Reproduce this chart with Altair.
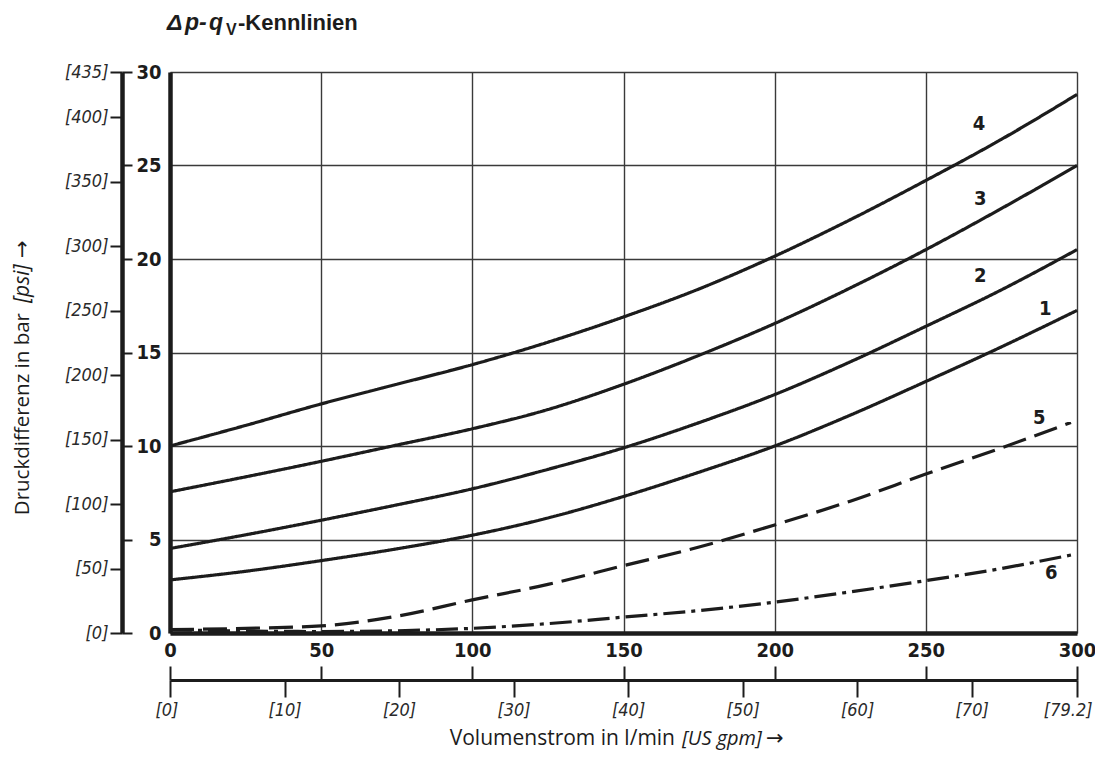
import altair as alt
import pandas as pd

# ---------------- data ----------------
q = [0, 25, 50, 75, 100, 125, 150, 175, 200, 225, 250, 275, 300]
curve1 = [2.84, 3.3, 3.87, 4.5, 5.23, 6.15, 7.3, 8.6, 10.0, 11.65, 13.45, 15.3, 17.25]
curve2 = [4.52, 5.25, 6.03, 6.85, 7.71, 8.75, 9.9, 11.25, 12.75, 14.5, 16.4, 18.35, 20.5]
curve3 = [7.55, 8.35, 9.18, 10.05, 10.92, 11.95, 13.3, 14.85, 16.55, 18.45, 20.5, 22.7, 25.0]
curve4 = [10.0, 11.1, 12.25, 13.3, 14.35, 15.55, 16.9, 18.4, 20.15, 22.1, 24.2, 26.4, 28.8]
q56 = [0, 25, 50, 75, 100, 125, 150, 175, 200, 225, 250, 275, 298]
curve5 = [0.18, 0.25, 0.38, 0.9, 1.77, 2.6, 3.6, 4.6, 5.78, 7.05, 8.5, 9.9, 11.26]
curve6 = [0.18, 0.1, 0.08, 0.12, 0.25, 0.5, 0.85, 1.2, 1.65, 2.2, 2.8, 3.45, 4.17]

label_names = ["1", "2", "3", "4", "5", "6"]
label_q = [289.5, 268.0, 268.0, 267.6, 287.5, 291.5]
label_dp = [17.3, 19.1, 23.2, 27.2, 11.5, 3.2]

q_ticks = [0, 50, 100, 150, 200, 250, 300]
bar_ticks = [0, 5, 10, 15, 20, 25, 30]
psi_ticks = [0, 50, 100, 150, 200, 250, 300, 350, 400, 435]
gpm_ticks = [0, 10, 20, 30, 40, 50, 60, 70, 79.2]

# ---------------- tables ----------------
rows = []
for name, ys_, xs_, style in [("1", curve1, q, "solid"), ("2", curve2, q, "solid"),
                              ("3", curve3, q, "solid"), ("4", curve4, q, "solid"),
                              ("5", curve5, q56, "dash"), ("6", curve6, q56, "dashdot")]:
    for a, b in zip(xs_, ys_):
        rows.append({"q": a, "dp": b, "curve": name, "style": style})
df = pd.DataFrame(rows)
lab_df = pd.DataFrame({"q": label_q, "dp": label_dp, "name": label_names})
dummy = pd.DataFrame({"q": [0], "dp": [0], "gpm": [0], "psi": [0]})

INK = "#1c1c1c"
GRID = "#3a3a3a"
F_NUM = "DejaVu Sans Condensed, Liberation Sans Narrow, sans-serif"
F_TXT = "Open Sans, DejaVu Sans, sans-serif"
F_TIT = "Liberation Sans, Arial, sans-serif"

xs = alt.Scale(domain=[0, 300], nice=False, zero=False)
ys = alt.Scale(domain=[0, 30], nice=False, zero=False)

# ---------------- main layer: curves + grid + main axes ----------------
lines = alt.Chart(df).mark_line(strokeWidth=3.2, color=INK, interpolate="monotone", strokeCap="butt").encode(
    x=alt.X("q:Q", scale=xs, axis=alt.Axis(
        orient="bottom", values=q_ticks, grid=True, gridColor=GRID, gridWidth=1.4, gridOpacity=1,
        domainColor=INK, domainWidth=4.5, ticks=False, tickSize=0,
        labelFont=F_NUM, labelFontSize=20, labelFontWeight="bold", labelColor=INK,
        labelPadding=7, labelFlush=False, labelOverlap=False, title=None)),
    y=alt.Y("dp:Q", scale=ys, axis=alt.Axis(
        orient="left", values=bar_ticks, grid=True, gridColor=GRID, gridWidth=1.4, gridOpacity=1,
        domainColor=INK, domainWidth=4.5, ticks=False, tickSize=0,
        labelFont=F_NUM, labelFontSize=20, labelFontWeight="bold", labelColor=INK,
        labelPadding=9, labelOverlap=False, title=None)),
    detail="curve:N",
    strokeDash=alt.StrokeDash("style:N", scale=alt.Scale(
        domain=["solid", "dash", "dashdot"], range=[[1, 0], [24, 9], [22, 6, 4, 6]]), legend=None),
)

# ---------------- tick-only axes (l/min ticks below, bar ticks at psi axis) ----------------
ticks = alt.Chart(dummy).mark_point(opacity=0).encode(
    x=alt.X("q:Q", scale=xs, axis=alt.Axis(
        orient="bottom", offset=33, values=q_ticks, domain=False, labels=False,
        ticks=True, tickSize=14, tickWidth=2, tickColor=INK, grid=False, title=None)),
    y=alt.Y("dp:Q", scale=ys, axis=alt.Axis(
        orient="left", offset=38, values=bar_ticks, domain=False, labels=False,
        ticks=True, tickSize=10, tickWidth=2, tickColor=INK, grid=False, title=None)),
)

# ---------------- secondary units: US gpm and psi ----------------
sec = alt.Chart(dummy).mark_point(opacity=0).encode(
    x=alt.X("gpm:Q", scale=alt.Scale(domain=[0, 79.2], nice=False, zero=False), axis=alt.Axis(
        orient="bottom", offset=47, values=gpm_ticks, labelExpr="'[' + datum.value + ']'",
        domainColor=INK, domainWidth=3.2, ticks=True, tickSize=17, tickWidth=2, tickColor=INK,
        labelFont=F_NUM, labelFontSize=18, labelFontStyle="italic", labelColor="#2a2a2a",
        labelPadding=4, labelFlush=True, labelFlushOffset=15, labelOverlap=False,
        grid=False, title=None)),
    y=alt.Y("psi:Q", scale=alt.Scale(domain=[0, 435], nice=False, zero=False), axis=alt.Axis(
        orient="left", offset=48, values=psi_ticks, labelExpr="'[' + datum.value + ']'",
        domainColor=INK, domainWidth=4.5, ticks=True, tickSize=12, tickWidth=2, tickColor=INK,
        labelFont=F_NUM, labelFontSize=18, labelFontStyle="italic", labelColor="#2a2a2a",
        labelPadding=2, labelOverlap=False, grid=False, title=None)),
)

# ---------------- curve numbers ----------------
labels = alt.Chart(lab_df).mark_text(font=F_NUM, fontSize=20, fontWeight="bold", color=INK).encode(
    x=alt.X("q:Q", scale=xs, axis=None),
    y=alt.Y("dp:Q", scale=ys, axis=None),
    text="name:N",
)

# ---------------- titles as text ----------------
def txt(s, x, y, **kw):
    return alt.Chart(dummy).mark_text(text=s, color=INK, **kw).encode(x=alt.value(x), y=alt.value(y))

TB = dict(font=F_TIT, fontWeight="bold", align="left", baseline="alphabetic")
titles = [
    txt("Δ", -3, -42, fontSize=23, fontStyle="italic", **TB),
    txt("p", 15, -42, fontSize=23, fontStyle="italic", **TB),
    txt("-", 29, -42, fontSize=23, fontStyle="italic", **TB),
    txt("q", 39, -42, fontSize=23, fontStyle="italic", **TB),
    txt("V", 56, -37, fontSize=16, **TB),
    txt("-Kennlinien", 68, -42, fontSize=22, **TB),
    txt("Druckdifferenz in bar", -147, 241, font=F_TXT, fontSize=20.5, angle=270, align="right", baseline="middle"),
    txt("[psi]", -147, 231, font=F_TXT, fontSize=21, fontStyle="italic", angle=270, align="left", baseline="middle"),
    txt("→", -147, 186, font=F_TXT, fontSize=21, angle=270, align="left", baseline="middle"),
    txt("Volumenstrom in l/min", 505, 673, font=F_TXT, fontSize=21, align="right", baseline="alphabetic"),
    txt("[US gpm]", 512, 673, font=F_TXT, fontSize=20, fontStyle="italic", align="left", baseline="alphabetic"),
    txt("→", 596, 673, font=F_TXT, fontSize=21, align="left", baseline="alphabetic"),
]

chart = alt.layer(lines, ticks, sec, labels, *titles).resolve_scale(
    x="independent", y="independent"
).resolve_axis(
    x="independent", y="independent"
).properties(
    width=907, height=561,
    autosize=alt.AutoSizeParams(type="none"),
    padding={"left": 162, "top": 64, "right": 18, "bottom": 117},
).configure_view(strokeWidth=0)

chart.save("out.html", embed_options={"renderer": "svg", "actions": False})
